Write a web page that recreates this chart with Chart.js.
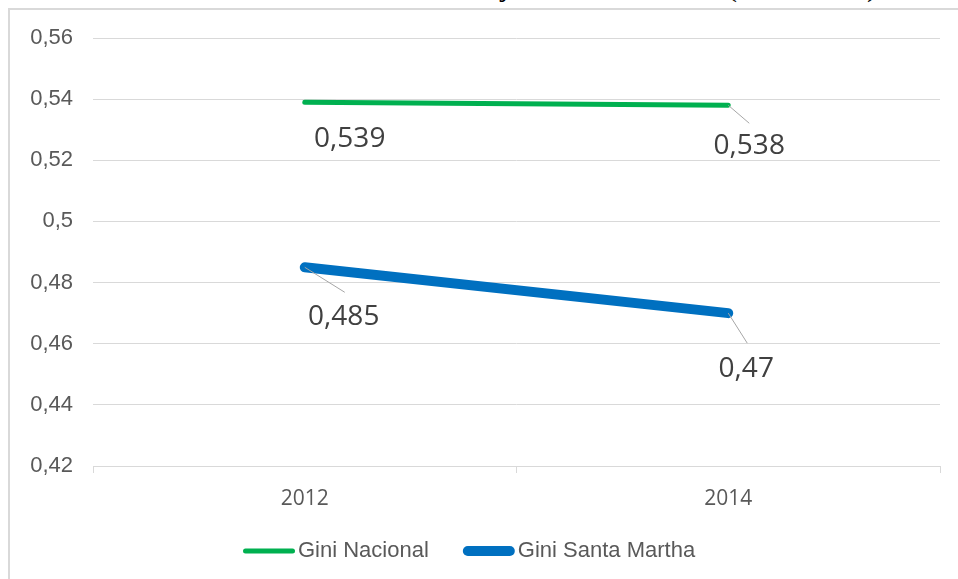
<!DOCTYPE html>
<html>
<head>
<meta charset="utf-8">
<script src="https://cdn.jsdelivr.net/npm/chart.js@4.4.1/dist/chart.umd.min.js"></script>
<style>
  body { margin: 0; background: #fff; width: 958px; height: 579px; overflow: hidden; position: relative; }
  #title { position: absolute; left: 0; top: 0; width: 958px; height: 8px; overflow: hidden; }
  #title span { position: absolute; top: -29px; font: 30px "Liberation Serif", serif; line-height: 30px; color: #000; white-space: nowrap; }
  #frame { position: absolute; left: 8px; top: 8px; width: 960px; height: 580px; border-left: 2px solid #d9d9d9; border-top: 2px solid #d9d9d9; }
  #chart { position: absolute; left: 10px; top: 10px; }
</style>
</head>
<body>
<div id="title">
  <span style="right:444px">Coeficiente de Gini Nacional y</span>
  <span style="left:560px">Santa Martha</span>
  <span style="left:727px">(2012-2014)</span>
</div>
<div id="frame"></div>
<canvas id="chart" width="948" height="569"></canvas>
<script>
// ---------- data ----------
const years = ["2012", "2014"];
const giniNacional = [0.539, 0.538];
const giniSantaMartha = [0.485, 0.47];
const yMin = 0.42, yMax = 0.56, yStep = 0.02;

// label placement relative to each point (pixels): text centre and leader end
const labelOffsets = [
  [{ dx: 45, dy: 37, lead: null }, { dx: 21, dy: 41, lead: [21, 18] }],
  [{ dx: 39, dy: 50, lead: [40, 25] }, { dx: 18, dy: 56, lead: [19, 30] }]
];

const fmt = v => String(Number(v.toFixed(3))).replace(".", ",");

// data labels with leader lines
const dataLabels = {
  id: "dataLabels",
  afterDatasetsDraw(chart) {
    const ctx = chart.ctx;
    ctx.save();
    chart.data.datasets.forEach((ds, i) => {
      chart.getDatasetMeta(i).data.forEach((pt, j) => {
        const o = labelOffsets[i][j];
        if (o.lead) {
          ctx.strokeStyle = "#a6a6a6";
          ctx.lineWidth = 1;
          ctx.beginPath();
          ctx.moveTo(pt.x, pt.y);
          ctx.lineTo(pt.x + o.lead[0], pt.y + o.lead[1]);
          ctx.stroke();
        }
        ctx.fillStyle = "#404040";
        ctx.font = '28px "Open Sans"';
        ctx.textAlign = "center";
        ctx.textBaseline = "middle";
        ctx.fillText(fmt(ds.data[j]), pt.x + o.dx, pt.y + o.dy);
      });
    });
    ctx.restore();
  }
};

// legend: line sample right next to the text
const lineLegend = {
  id: "lineLegend",
  afterDraw(chart) {
    const ctx = chart.ctx;
    let x = 233;
    const y = 541;
    ctx.save();
    ctx.font = '22px "Liberation Sans"';
    ctx.textBaseline = "middle";
    ctx.textAlign = "left";
    chart.data.datasets.forEach(ds => {
      const w = ds.borderWidth;
      ctx.strokeStyle = ds.borderColor;
      ctx.lineWidth = w;
      ctx.lineCap = "round";
      ctx.beginPath();
      ctx.moveTo(x + w / 2, y);
      ctx.lineTo(x + 52 - w / 2, y);
      ctx.stroke();
      ctx.fillStyle = "#595959";
      ctx.fillText(ds.label, x + 55, y);
      x += 55 + ctx.measureText(ds.label).width + 34;
    });
    ctx.restore();
  }
};

new Chart(document.getElementById("chart"), {
  type: "line",
  data: {
    labels: years,
    datasets: [
      {
        label: "Gini Nacional",
        data: giniNacional,
        borderColor: "#00b050",
        borderWidth: 5,
        borderCapStyle: "round",
        pointRadius: 0,
        tension: 0
      },
      {
        label: "Gini Santa Martha",
        data: giniSantaMartha,
        borderColor: "#0070c0",
        borderWidth: 10,
        borderCapStyle: "round",
        pointRadius: 0,
        tension: 0
      }
    ]
  },
  options: {
    responsive: false,
    animation: false,
    devicePixelRatio: 1,
    layout: { padding: { top: 28, right: 18, bottom: 73, left: 0 } },
    plugins: { legend: { display: false }, tooltip: { enabled: false } },
    scales: {
      x: {
        offset: true,
        grid: { offset: true, drawOnChartArea: false, drawTicks: true, tickLength: 7, color: "#d9d9d9" },
        border: { color: "#d9d9d9" },
        ticks: { font: { family: "Open Sans", size: 21 }, color: "#595959", padding: 13 },
        afterFit: s => { s.height = 40; }
      },
      y: {
        min: yMin,
        max: yMax,
        ticks: {
          stepSize: yStep,
          padding: 4,
          font: { family: "Liberation Sans", size: 22 },
          color: "#595959",
          callback: v => String(Number(v.toFixed(2))).replace(".", ",")
        },
        grid: { color: "#d9d9d9", drawTicks: true, tickLength: 16, tickColor: "rgba(0,0,0,0)" },
        border: { display: false },
        afterFit: s => { s.width = 83; }
      }
    }
  },
  plugins: [dataLabels, lineLegend]
});
</script>
</body>
</html>
